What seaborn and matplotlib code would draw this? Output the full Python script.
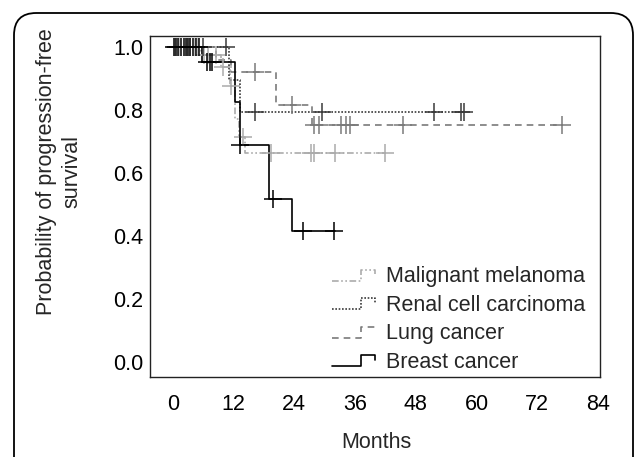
import numpy as np
import pandas as pd
import seaborn as sns
import matplotlib.pyplot as plt
from matplotlib.lines import Line2D
from matplotlib.legend_handler import HandlerLine2D
from matplotlib.patches import FancyBboxPatch

# step curves: times where the curve changes, survival after each step, last follow-up
groups = ["Malignant melanoma", "Renal cell carcinoma", "Lung cancer", "Breast cancer"]

mel_times = [0, 5.5, 9.6, 11.3, 12.3, 13.0, 14.2]
mel_surv = [1.0, 0.975, 0.937, 0.875, 0.77, 0.715, 0.665]
mel_end = 42.0
mel_cens = [0.5, 1.2, 2.8, 3.5, 4.3, 5.0, 6.2, 7.0, 8.5, 10.0, 11.6, 13.8, 19.5, 27.4, 27.9, 32.0, 42.0]

ren_times = [0, 11.1, 13.2]
ren_surv = [1.0, 0.895, 0.794]
ren_end = 57.5
ren_cens = [6.0, 10.6, 16.2, 29.5, 51.6, 57.0, 57.5]

lung_times = [0, 8.5, 11.5, 20.4, 27.5]
lung_surv = [1.0, 0.96, 0.921, 0.816, 0.752]
lung_end = 76.8
lung_cens = [16.2, 23.5, 27.9, 28.9, 33.3, 34.3, 35.1, 45.5, 76.8]

br_times = [0, 5.7, 12.3, 13.2, 19.0, 23.5]
br_surv = [1.0, 0.951, 0.826, 0.689, 0.516, 0.415]
br_end = 32.0
br_cens = [0.3, 0.7, 1.0, 1.6, 2.2, 2.6, 3.0, 3.4, 3.9, 4.6, 5.1, 6.8, 7.3, 7.8, 13.2, 19.8, 25.8, 31.8]

x_ticks = [0, 12, 24, 36, 48, 60, 72, 84]
y_ticks = [0.0, 0.2, 0.4, 0.6, 0.8, 1.0]

curves = [
    (mel_times, mel_surv, mel_end, mel_cens),
    (ren_times, ren_surv, ren_end, ren_cens),
    (lung_times, lung_surv, lung_end, lung_cens),
    (br_times, br_surv, br_end, br_cens),
]
colors = ["#ababab", "#3a3a3a", "#7a7a7a", "#000000"]
styles = [(0, (4, 1.5, 1, 1.5, 1, 1.5)), (0, (1, 1)), (0, (4, 3)), "-"]


class StepHandler(HandlerLine2D):
    # small step glyph like the R legend
    def create_artists(self, legend, orig_handle, xdescent, ydescent, width, height, fontsize, trans):
        x0, x1 = -xdescent, -xdescent + width
        xm = x0 + width * 0.67
        yl = -ydescent + height * 0.1
        yh = yl + height * 0.72
        line = Line2D([x0, xm, xm, x1, x1], [yl, yl, yh, yh, yh - height * 0.3])
        self.update_prop(line, orig_handle, legend)
        line.set_transform(trans)
        return [line]


sns.set_style("white")
plt.rcParams["font.family"] = ["Liberation Sans", "DejaVu Sans"]

fig = plt.figure(figsize=(6.35, 4.57), dpi=100)
ax = fig.add_axes([150 / 635, 1 - 377 / 457, 450 / 635, 341 / 457])

handles = []
for name, (t, s, end, cens), c, ls in zip(groups, curves, colors, styles):
    df = pd.DataFrame({"month": list(t) + [end], "surv": list(s) + [s[-1]]})
    sns.lineplot(data=df, x="month", y="surv", ax=ax, drawstyle="steps-post",
                 color=c, linestyle=ls, linewidth=1.2, estimator=None, sort=False)
    idx = np.searchsorted(t, cens, side="right") - 1
    cdf = pd.DataFrame({"month": cens, "surv": np.array(s)[idx]})
    sns.scatterplot(data=cdf, x="month", y="surv", ax=ax, marker="+", s=160,
                    color=c, linewidth=1.1, zorder=3)
    handles.append(Line2D([], [], color=c, linestyle=ls, linewidth=1.2, label=name))

ax.set_xlim(-4.5, 84.4)
ax.set_ylim(-0.048, 1.035)
ax.set_xticks(x_ticks)
ax.set_yticks(y_ticks)
ax.set_xticklabels([str(v) for v in x_ticks])
ax.set_yticklabels([f"{v:.1f}" for v in y_ticks])
ax.tick_params(axis="both", length=0, labelsize=15.5, colors="black")
ax.tick_params(axis="x", pad=12)
ax.tick_params(axis="y", pad=5)
ax.set_xlabel("")
ax.set_ylabel("")
for sp in ax.spines.values():
    sp.set_color("#222222")
    sp.set_linewidth(1.0)

ax.legend(handles=handles, handler_map={Line2D: StepHandler()}, loc="upper left",
          bbox_to_anchor=(0.405, 0.325), frameon=False, fontsize=15.5,
          borderpad=0, borderaxespad=0, handlelength=2.0, handletextpad=0.5,
          labelspacing=0.35)

fig.text(376 / 635, 1 - 442 / 457, "Months", ha="center", va="center", fontsize=15.5)
fig.text(59 / 635, 1 - 172 / 457, "Probability of progression-free\nsurvival",
         ha="center", va="center", rotation=90, fontsize=15.5, linespacing=1.25)

frame = FancyBboxPatch((14 / 635, -0.2), 619 / 635, 1.2 - 13 / 457,
                       boxstyle="round,pad=0,rounding_size=0.035",
                       transform=fig.transFigure, fill=False, edgecolor="black",
                       linewidth=1.3, mutation_aspect=635 / 457)
fig.patches.append(frame)

fig.savefig("out.png", dpi=100)
